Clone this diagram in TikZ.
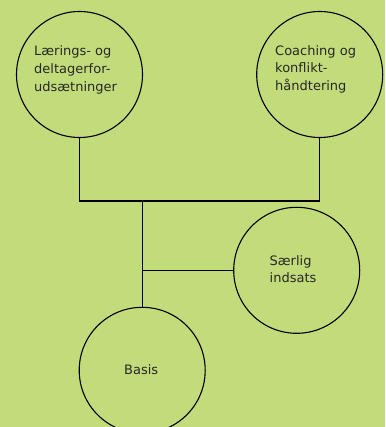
\documentclass[tikz,border=0pt]{standalone}
\usepackage{fontspec}
\setmainfont{DejaVu Sans}
\definecolor{bg}{RGB}{194,220,124}
\definecolor{txt}{RGB}{40,40,36}
\begin{document}
\begin{tikzpicture}[x=1pt,y=-1pt,
  circ/.style={circle,draw=black,line width=1.1pt,minimum size=126pt,inner sep=0pt},
  lbl/.style={anchor=base west,inner sep=0pt,text=txt,font=\fontsize{13}{18}\selectfont,align=left},
  conn/.style={draw=black,line width=1.1pt}]
\fill[bg] (0,0) rectangle (385,427);
\useasboundingbox (0,0) rectangle (385,427);
\begin{scope}
\clip (0,0) rectangle (385,427);
\node[circ] (c1) at (79.5,74.5) {};
\node[circ] (c2) at (319.7,74.5) {};
\node[circ] (c3) at (296.7,270.3) {};
\node[circ] (c4) at (142.2,370.3) {};
\coordinate (j1) at (79.5,201);
\coordinate (j2) at (319.7,201);
\coordinate (j3) at (142.2,201);
\coordinate (j4) at (142.2,270.3);
\draw[conn] (c1.south) -- (j1) -- (j2) -- (c2.south);
\draw[conn] (j3) -- (c4.north);
\draw[conn] (j4) -- (c3.west);
\end{scope}
\node[lbl] (t1a) at (34,56) {Lærings- og};
\node[lbl] (t1b) at (34,74) {deltagerfor-};
\node[lbl] (t1c) at (34,91.5) {udsætninger};
\node[lbl] (t2a) at (275,55.5) {Coaching og};
\node[lbl] (t2b) at (275,73) {konflikt-};
\node[lbl] (t2c) at (275,91) {håndtering};
\node[lbl] (t3a) at (269.5,265) {Særlig};
\node[lbl] (t3b) at (269.5,282.7) {indsats};
\node[lbl] (t4) at (124,374) {Basis};
\end{tikzpicture}
\end{document}
